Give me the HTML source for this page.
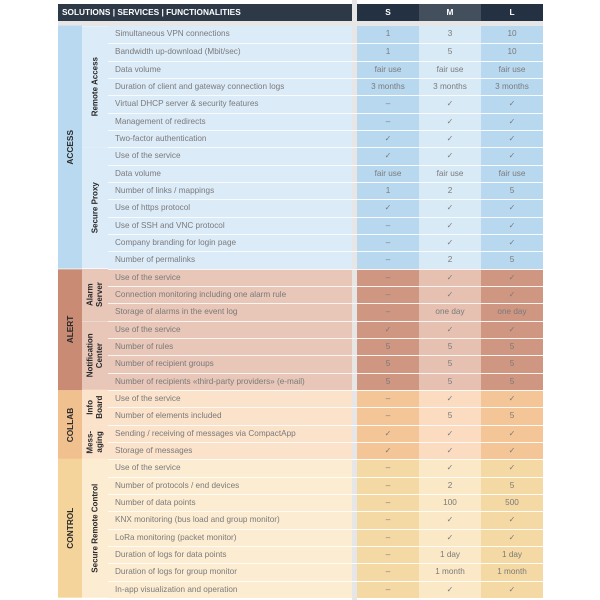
<!DOCTYPE html>
<html><head><meta charset="utf-8"><style>
body{margin:0;width:600px;height:600px;background:#fff;position:relative;overflow:hidden;font-family:"Liberation Sans",sans-serif}
*{box-sizing:border-box}
.a{position:absolute}
.hd{top:4px;height:17px;color:#fff;font-weight:bold;font-size:8.3px;line-height:17px}
.gap{left:352px;width:5px;top:0;height:600px;background:#e6e6e6}
.top{left:58px;top:21px;width:485px;height:5px;background:#e6e6e6}
.r{position:absolute;left:108px;width:435px;height:17.33px;display:flex;font-size:8.2px;color:#7a7a7a;border-top:1px solid rgba(255,255,255,.8)}
.r .t{width:244px;padding-left:7px;line-height:16px;white-space:nowrap}
.r .g{width:5px;background:#e6e6e6}
.r .c{width:62px;text-align:center;line-height:16px}
.cat{position:absolute;left:58px;width:24px;writing-mode:vertical-rl;transform:rotate(180deg);text-align:center;font-weight:bold;font-size:8.3px;color:#2a2a2a}
.sub{position:absolute;left:82px;width:26px;writing-mode:vertical-rl;transform:rotate(180deg);text-align:center;font-weight:bold;font-size:8px;color:#2a2a2a;line-height:9.5px;display:flex;align-items:center;justify-content:center}
.A{background:#dcebf8}.A .s{background:#b8d8f0}.A .m{background:#d9eaf7}
.L{background:#e8c6b8}.L .s{background:#cf9682}.L .m{background:#e6c1b2}
.C{background:#fbe2ca}.C .s{background:#f3c597}.C .m{background:#fbdcc0}
.K{background:#fcedd2}.K .s{background:#f5d9a4}.K .m{background:#fae8c7}
</style></head><body>
<div class="a gap"></div><div class="a top"></div>
<div class="a hd" style="left:58px;width:294px;background:#2e3948;padding-left:4px">SOLUTIONS | SERVICES | FUNCTIONALITIES</div>
<div class="a hd" style="left:357px;width:62px;background:#243142;text-align:center">S</div>
<div class="a hd" style="left:419px;width:62px;background:#444f5d;text-align:center">M</div>
<div class="a hd" style="left:481px;width:62px;background:#243142;text-align:center">L</div>

<div class="cat" style="top:26px;height:242.6px;background:#b9d9f0;line-height:24px">ACCESS</div>
<div class="sub A" style="top:26px;height:121.3px">Remote Access</div>
<div class="sub A" style="top:147.3px;height:121.3px">Secure Proxy</div>
<div class="cat" style="top:268.6px;height:121.3px;background:#c98b74;line-height:24px">ALERT</div>
<div class="sub L" style="top:268.6px;height:52px">Alarm<br>Server</div>
<div class="sub L" style="top:320.6px;height:69.3px">Notification<br>Center</div>
<div class="cat" style="top:389.9px;height:69.3px;background:#f0c08f;line-height:24px">COLLAB</div>
<div class="sub C" style="top:389.9px;height:34.7px">Info<br>Board</div>
<div class="sub C" style="top:424.6px;height:34.6px">Mess-<br>aging</div>
<div class="cat" style="top:459.2px;height:138.7px;background:#f4d49b;line-height:24px">CONTROL</div>
<div class="sub K" style="top:459.2px;height:138.7px">Secure Remote Control</div>

<div class="r A" style="top:26px;border-top:0"><div class="t">Simultaneous VPN connections</div><div class="g"></div><div class="c s">1</div><div class="c m">3</div><div class="c s">10</div></div>
<div class="r A" style="top:43.3px"><div class="t">Bandwidth up-download (Mbit/sec)</div><div class="g"></div><div class="c s">1</div><div class="c m">5</div><div class="c s">10</div></div>
<div class="r A" style="top:60.7px"><div class="t">Data volume</div><div class="g"></div><div class="c s">fair use</div><div class="c m">fair use</div><div class="c s">fair use</div></div>
<div class="r A" style="top:78px"><div class="t">Duration of client and gateway connection logs</div><div class="g"></div><div class="c s">3 months</div><div class="c m">3 months</div><div class="c s">3 months</div></div>
<div class="r A" style="top:95.3px"><div class="t">Virtual DHCP server &amp; security features</div><div class="g"></div><div class="c s">–</div><div class="c m">✓</div><div class="c s">✓</div></div>
<div class="r A" style="top:112.7px"><div class="t">Management of redirects</div><div class="g"></div><div class="c s">–</div><div class="c m">✓</div><div class="c s">✓</div></div>
<div class="r A" style="top:130px"><div class="t">Two-factor authentication</div><div class="g"></div><div class="c s">✓</div><div class="c m">✓</div><div class="c s">✓</div></div>
<div class="r A" style="top:147.3px"><div class="t">Use of the service</div><div class="g"></div><div class="c s">✓</div><div class="c m">✓</div><div class="c s">✓</div></div>
<div class="r A" style="top:164.7px"><div class="t">Data volume</div><div class="g"></div><div class="c s">fair use</div><div class="c m">fair use</div><div class="c s">fair use</div></div>
<div class="r A" style="top:182px"><div class="t">Number of links / mappings</div><div class="g"></div><div class="c s">1</div><div class="c m">2</div><div class="c s">5</div></div>
<div class="r A" style="top:199.3px"><div class="t">Use of https protocol</div><div class="g"></div><div class="c s">✓</div><div class="c m">✓</div><div class="c s">✓</div></div>
<div class="r A" style="top:216.7px"><div class="t">Use of SSH and VNC protocol</div><div class="g"></div><div class="c s">–</div><div class="c m">✓</div><div class="c s">✓</div></div>
<div class="r A" style="top:234px"><div class="t">Company branding for login page</div><div class="g"></div><div class="c s">–</div><div class="c m">✓</div><div class="c s">✓</div></div>
<div class="r A" style="top:251.3px"><div class="t">Number of permalinks</div><div class="g"></div><div class="c s">–</div><div class="c m">2</div><div class="c s">5</div></div>

<div class="r L" style="top:268.6px"><div class="t">Use of the service</div><div class="g"></div><div class="c s">–</div><div class="c m">✓</div><div class="c s">✓</div></div>
<div class="r L" style="top:286px"><div class="t">Connection monitoring including one alarm rule</div><div class="g"></div><div class="c s">–</div><div class="c m">✓</div><div class="c s">✓</div></div>
<div class="r L" style="top:303.3px"><div class="t">Storage of alarms in the event log</div><div class="g"></div><div class="c s">–</div><div class="c m">one day</div><div class="c s">one day</div></div>
<div class="r L" style="top:320.6px"><div class="t">Use of the service</div><div class="g"></div><div class="c s">✓</div><div class="c m">✓</div><div class="c s">✓</div></div>
<div class="r L" style="top:338px"><div class="t">Number of rules</div><div class="g"></div><div class="c s">5</div><div class="c m">5</div><div class="c s">5</div></div>
<div class="r L" style="top:355.3px"><div class="t">Number of recipient groups</div><div class="g"></div><div class="c s">5</div><div class="c m">5</div><div class="c s">5</div></div>
<div class="r L" style="top:372.6px"><div class="t">Number of recipients «third-party providers» (e-mail)</div><div class="g"></div><div class="c s">5</div><div class="c m">5</div><div class="c s">5</div></div>

<div class="r C" style="top:389.9px"><div class="t">Use of the service</div><div class="g"></div><div class="c s">–</div><div class="c m">✓</div><div class="c s">✓</div></div>
<div class="r C" style="top:407.3px"><div class="t">Number of elements included</div><div class="g"></div><div class="c s">–</div><div class="c m">5</div><div class="c s">5</div></div>
<div class="r C" style="top:424.6px"><div class="t">Sending / receiving of messages via CompactApp</div><div class="g"></div><div class="c s">✓</div><div class="c m">✓</div><div class="c s">✓</div></div>
<div class="r C" style="top:441.9px"><div class="t">Storage of messages</div><div class="g"></div><div class="c s">✓</div><div class="c m">✓</div><div class="c s">✓</div></div>

<div class="r K" style="top:459.2px"><div class="t">Use of the service</div><div class="g"></div><div class="c s">–</div><div class="c m">✓</div><div class="c s">✓</div></div>
<div class="r K" style="top:476.6px"><div class="t">Number of protocols / end devices</div><div class="g"></div><div class="c s">–</div><div class="c m">2</div><div class="c s">5</div></div>
<div class="r K" style="top:493.9px"><div class="t">Number of data points</div><div class="g"></div><div class="c s">–</div><div class="c m">100</div><div class="c s">500</div></div>
<div class="r K" style="top:511.2px"><div class="t">KNX monitoring (bus load and group monitor)</div><div class="g"></div><div class="c s">–</div><div class="c m">✓</div><div class="c s">✓</div></div>
<div class="r K" style="top:528.6px"><div class="t">LoRa monitoring (packet monitor)</div><div class="g"></div><div class="c s">–</div><div class="c m">✓</div><div class="c s">✓</div></div>
<div class="r K" style="top:545.9px"><div class="t">Duration of logs for data points</div><div class="g"></div><div class="c s">–</div><div class="c m">1 day</div><div class="c s">1 day</div></div>
<div class="r K" style="top:563.2px"><div class="t">Duration of logs for group monitor</div><div class="g"></div><div class="c s">–</div><div class="c m">1 month</div><div class="c s">1 month</div></div>
<div class="r K" style="top:580.6px"><div class="t">In-app visualization and operation</div><div class="g"></div><div class="c s">–</div><div class="c m">✓</div><div class="c s">✓</div></div>
</body></html>
